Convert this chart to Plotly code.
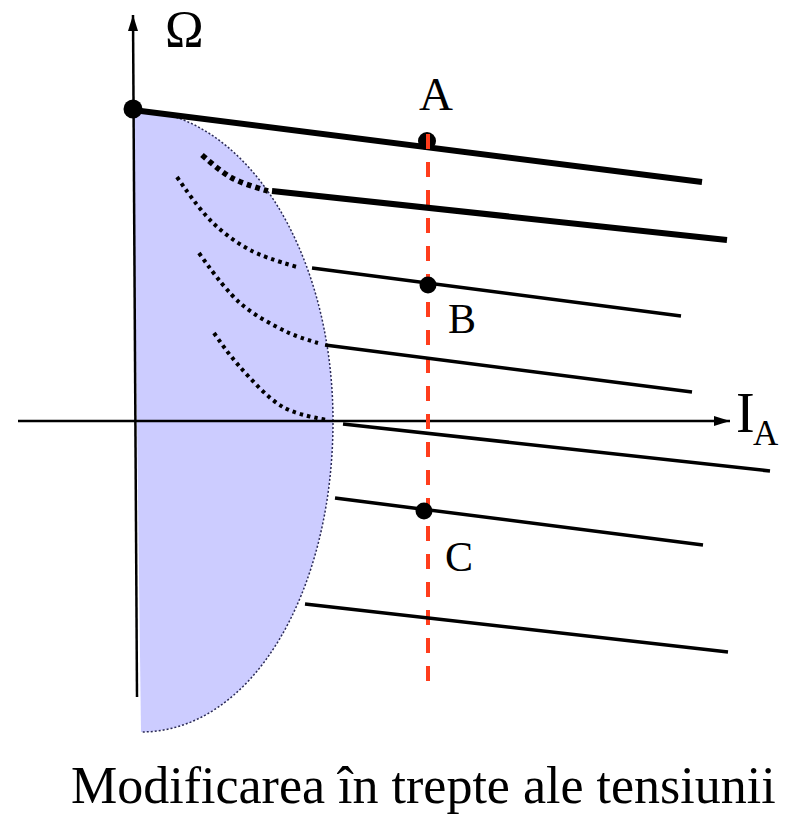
import plotly.graph_objects as go

# ---- diagram data (pixel-like coordinate space, y grows downward) ----
# characteristic lines (Omega vs I_A), start/end points
line_x0 = [133, 272, 312, 325, 343, 335, 305]
line_y0 = [110, 191, 268, 345, 424, 498, 604]
line_x1 = [702, 727, 681, 692, 770, 703, 728]
line_y1 = [182, 240, 316, 392, 471, 545, 652]
line_w = [6, 6, 3.5, 3.5, 3.5, 3.5, 3.5]

# dotted transition curves
curve_thick_x = [202, 232, 268]
curve_thick_y = [155, 178, 191]
curves_x = [[177, 212, 250, 297], [199, 240, 287, 318], [214, 240, 283, 327]]
curves_y = [[177, 222, 250, 267], [253, 303, 332, 343], [333, 367, 407, 420]]

# operating points
pt_x = [133, 427, 428, 424]
pt_y = [109, 141, 285, 511]
pt_size = [19, 18, 17, 17]
pt_labels = ["A", "B", "C"]
lab_x = [436, 462, 459]
lab_y = [94, 319, 557]
lab_size = [47, 42, 42]

# red constant-current line
red_x = 428
red_y = [134, 683]

# axes
vaxis_x = [137, 133]
vaxis_y = [697, 15]
haxis_x = [18, 730]
haxis_y = 421

# shaded region (right half ellipse)
reg_cx_top, reg_cx_bot = 133, 141
reg_rx = 200
reg_top, reg_bot = 110, 732

# page offset of the plot (default body margin)
OFF = 8
W, H = 796, 815

fig = go.Figure()

# shaded region
k = 0.5523
cy = (reg_top + reg_bot) / 2
ry = (reg_bot - reg_top) / 2
right = reg_cx_top + reg_rx
p1 = f"M {reg_cx_top},{reg_top} C {reg_cx_top + k*reg_rx},{reg_top} {right},{cy - k*ry} {right},{cy}"
p2 = f" C {right},{cy + k*ry} {reg_cx_bot + k*reg_rx},{reg_bot} {reg_cx_bot},{reg_bot}"
fig.add_shape(type="path", path=p1 + p2 + " Z", fillcolor="#CCCCFF",
              line=dict(width=0), layer="below", xref="x", yref="y")
fig.add_shape(type="path", path=p1 + p2, fillcolor="rgba(0,0,0,0)",
              line=dict(width=1.5, color="#2a2a55", dash="2px,2px"),
              layer="below", xref="x", yref="y")

# axes lines
fig.add_trace(go.Scatter(x=vaxis_x, y=vaxis_y, mode="lines",
                         line=dict(color="black", width=2.5), hoverinfo="skip"))
fig.add_trace(go.Scatter(x=haxis_x, y=[haxis_y, haxis_y], mode="lines",
                         line=dict(color="black", width=2.5), hoverinfo="skip"))
# arrowheads
vx, vy = vaxis_x[1], vaxis_y[1]
fig.add_shape(type="path", path=f"M {vx},{vy} L {vx-5},{vy+16} L {vx+5},{vy+16} Z",
              fillcolor="black", line=dict(width=0), xref="x", yref="y")
hx = haxis_x[1]
fig.add_shape(type="path", path=f"M {hx},{haxis_y} L {hx-16},{haxis_y-5} L {hx-16},{haxis_y+5} Z",
              fillcolor="black", line=dict(width=0), xref="x", yref="y")

# red dashed line
fig.add_trace(go.Scatter(x=[red_x, red_x], y=red_y, mode="lines",
                         line=dict(color="#ff3d1c", width=4, dash="15px,13px"), hoverinfo="skip"))

# characteristic lines
for x0, y0, x1, y1, w in zip(line_x0, line_y0, line_x1, line_y1, line_w):
    fig.add_trace(go.Scatter(x=[x0, x1], y=[y0, y1], mode="lines",
                             line=dict(color="black", width=w), hoverinfo="skip"))

# dotted curves
fig.add_trace(go.Scatter(x=curve_thick_x, y=curve_thick_y, mode="lines",
                         line=dict(color="black", width=5.5, dash="5px,4px", shape="spline"),
                         hoverinfo="skip"))
for cx, cyy in zip(curves_x, curves_y):
    fig.add_trace(go.Scatter(x=cx, y=cyy, mode="lines",
                             line=dict(color="black", width=4, dash="3.5px,4px", shape="spline"),
                             hoverinfo="skip"))

# points
fig.add_trace(go.Scatter(x=pt_x, y=pt_y, mode="markers", opacity=1,
                         marker=dict(color="black", size=pt_size, opacity=1,
                                     line=dict(width=0, color="black")),
                         hoverinfo="skip"))
# red line segment visible over point A (as in the reference)
fig.add_trace(go.Scatter(x=[red_x, red_x], y=[red_y[0], red_y[0] + 15], mode="lines",
                         line=dict(color="#ff3d1c", width=4), hoverinfo="skip"))

serif = "Liberation Serif, Times New Roman, serif"
for t, x, y, s in zip(pt_labels, lab_x, lab_y, lab_size):
    fig.add_annotation(x=x, y=y, text=t, showarrow=False, xanchor="center", yanchor="middle",
                       font=dict(family=serif, size=s, color="black"))
fig.add_annotation(x=184, y=29, text="Ω", showarrow=False, xanchor="center", yanchor="middle",
                   font=dict(family=serif, size=52, color="black"))
fig.add_annotation(x=745, y=413, text="I", showarrow=False, xanchor="center", yanchor="middle",
                   font=dict(family=serif, size=56, color="black"))
fig.add_annotation(x=766, y=433, text="A", showarrow=False, xanchor="center", yanchor="middle",
                   font=dict(family=serif, size=35, color="black"))
fig.add_annotation(x=423, y=785, text="Modificarea în trepte ale tensiunii", showarrow=False,
                   xanchor="center", yanchor="middle",
                   font=dict(family=serif, size=52, color="black"))

fig.update_layout(
    width=W - OFF, height=H - OFF, margin=dict(l=0, r=0, t=0, b=0),
    paper_bgcolor="white", plot_bgcolor="white", showlegend=False,
    xaxis=dict(range=[OFF, W], visible=False, fixedrange=True),
    yaxis=dict(range=[H, OFF], visible=False, fixedrange=True),
)
fig.write_html("out.html")
